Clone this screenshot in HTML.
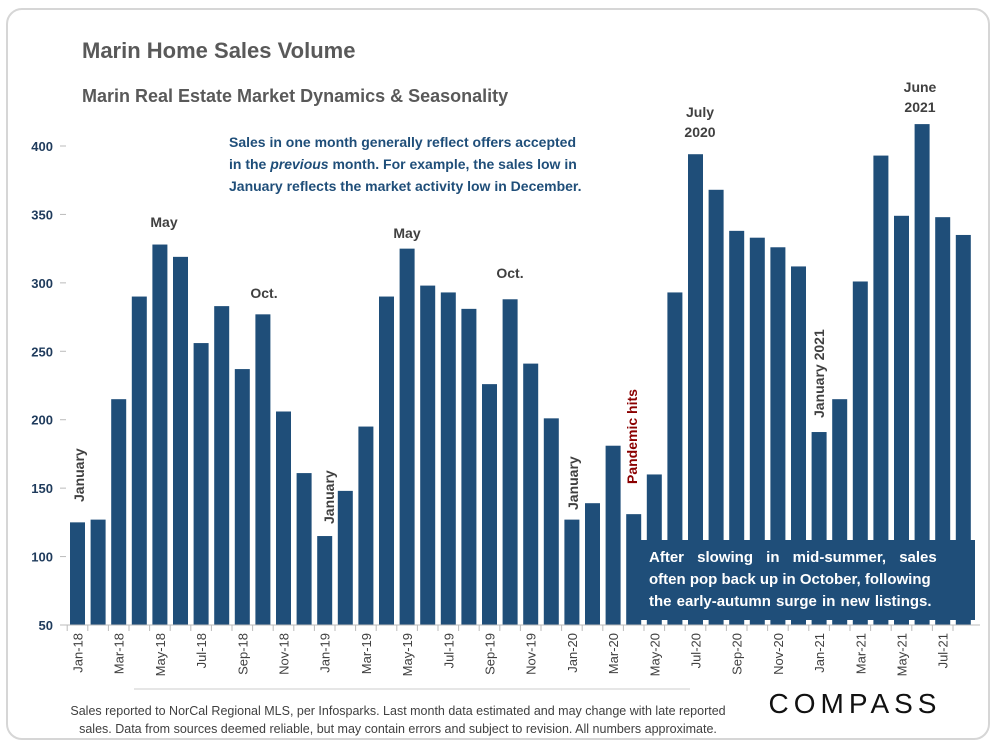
<!DOCTYPE html>
<html><head><meta charset="utf-8"><style>
body{margin:0;background:#fff;font-family:"Liberation Sans",sans-serif;}
#frame{position:absolute;left:6px;top:8px;width:984px;height:732px;border:2px solid #d6d6d6;border-radius:16px;box-sizing:border-box;}
svg{position:absolute;left:0;top:0;}
</style></head><body>
<div id="frame"></div>
<svg id="c" width="1000" height="750"></svg>
<script>
const months=["Jan-18","Feb-18","Mar-18","Apr-18","May-18","Jun-18","Jul-18","Aug-18","Sep-18","Oct-18","Nov-18","Dec-18","Jan-19","Feb-19","Mar-19","Apr-19","May-19","Jun-19","Jul-19","Aug-19","Sep-19","Oct-19","Nov-19","Dec-19","Jan-20","Feb-20","Mar-20","Apr-20","May-20","Jun-20","Jul-20","Aug-20","Sep-20","Oct-20","Nov-20","Dec-20","Jan-21","Feb-21","Mar-21","Apr-21","May-21","Jun-21","Jul-21","Aug-21"];
const sales=[125,127,215,290,328,319,256,283,237,277,206,161,115,148,195,290,325,298,293,281,226,288,241,201,127,139,181,131,160,293,394,368,338,333,326,312,191,215,301,393,349,416,348,335];
const yTicks=[50,100,150,200,250,300,350,400];
const NS="http://www.w3.org/2000/svg";
const svg=document.getElementById('c');
const x0=70,step=20.6,bw=15;
function xPos(i){return x0+i*step;}
function yPos(v){return 625-(v-50)*479/350;}
function mk(t,a,txt){const e=document.createElementNS(NS,t);for(const k in a)e.setAttribute(k,a[k]);if(txt!==undefined)e.textContent=txt;svg.appendChild(e);return e;}
let e;
e=mk('text',{x:82,y:58,'font-size':22,'font-weight':'bold',fill:'#595959'},'Marin Home Sales Volume');

e=mk('text',{x:82,y:102,'font-size':18,'font-weight':'bold',fill:'#595959'},'Marin Real Estate Market Dynamics & Seasonality');

yTicks.forEach(v=>{e=mk('text',{x:53,y:yPos(v)+5,'font-size':13,'font-weight':'bold',fill:'#1f3b5c','text-anchor':'end'},v);

mk('line',{x1:60,x2:66,y1:yPos(v),y2:yPos(v),stroke:'#bbb'});});
sales.forEach((v,i)=>{e=mk('rect',{x:xPos(i),y:yPos(v),width:bw,height:625-yPos(v),fill:'#1f4e79'});
});
mk('line',{x1:66,x2:980,y1:625,y2:625,stroke:'#bbb'});
months.forEach((m,i)=>{mk('line',{x1:xPos(i)-2.8,x2:xPos(i)-2.8,y1:625,y2:631,stroke:'#bbb'});
if(i%2===0){const cx=xPos(i)+bw/2+5;e=mk('text',{x:cx,y:633,'font-size':13,fill:'#404040','text-anchor':'end',transform:`rotate(-90 ${cx} 633)`},m);
}});
mk('line',{x1:134,x2:690,y1:689,y2:689,stroke:'#ccc'});
function ann(t,x,y,rot,col,name){const a={x:x,y:y,'font-size':14,'font-weight':'bold',fill:col||'#404040','text-anchor':'middle'};if(rot)a.transform=`rotate(-90 ${x} ${y})`;if(rot)a['text-anchor']='start';e=mk('text',a,t);}
ann('January',84,502,true,null,'annotation-jan-18');
ann('May',164,227,false,null,'annotation-may-18');
ann('Oct.',264,298,false,null,'annotation-oct-18');
ann('January',334,524,true,null,'annotation-jan-19');
ann('May',407,238,false,null,'annotation-may-19');
ann('Oct.',510,278,false,null,'annotation-oct-19');
ann('January',578,510,true,null,'annotation-jan-20');
ann('Pandemic hits',637,484,true,'#8b0000','annotation-pandemic');
ann('July',700,117,false,null,'annotation-july-2020');
ann('2020',700,137,false,null,'annotation-july-2020-year');
ann('January 2021',824,418,true,null,'annotation-jan-21');
ann('June',920,92,false,null,'annotation-june-2021');
ann('2021',920,112,false,null,'annotation-june-2021-year');
[['Sales in one month generally reflect offers accepted',147],['in the previous month. For example, the sales low in',169],['January reflects the market activity low in December.',191]].forEach((l,k)=>{
e=mk('text',{x:229,y:l[1],'font-size':14,'font-weight':'bold',fill:'#1f4e79'});
if(k===1){e.innerHTML='in the <tspan font-style="italic">previous</tspan> month. For example, the sales low in';}else e.textContent=l[0];
});
e=mk('rect',{x:640,y:540,width:335,height:80,fill:'#1f4e79'});
['After slowing in mid-summer, sales','often pop back up in October, following','the early-autumn surge in new listings.'].forEach((t,k)=>{
e=mk('text',{x:649,y:562+k*22,'font-size':15,'font-weight':'bold',fill:'#fff','word-spacing':k===0?'9px':(k===2?'1px':'0px')},t);});
['Sales reported to NorCal Regional MLS, per Infosparks. Last month data estimated and may change with late reported','sales. Data from sources deemed reliable, but may contain errors and subject to revision. All numbers approximate.'].forEach((t,k)=>{
e=mk('text',{x:398,y:715+k*18,'font-size':12.5,fill:'#404040','text-anchor':'middle'},t);});
e=mk('text',{x:855,y:713,'font-size':28,fill:'#111','text-anchor':'middle','letter-spacing':5},'COMPASS');

</script>
</body></html>
